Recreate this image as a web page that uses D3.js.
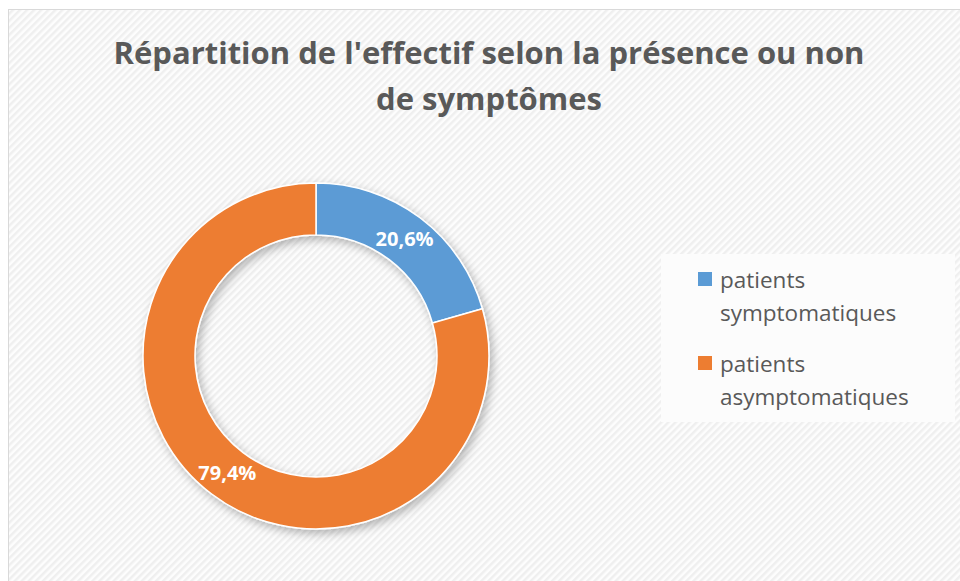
<!DOCTYPE html>
<html>
<head>
<meta charset="utf-8">
<script src="https://cdn.jsdelivr.net/npm/d3@7"></script>
<style>
  html, body { margin: 0; padding: 0; background: #fff; }
  svg { display: block; font-family: "Open Sans", "Noto Sans", sans-serif; }
</style>
</head>
<body>
<div class="chart"></div>
<script>
(() => {
  const categories = ["patients symptomatiques", "patients asymptomatiques"];
  const values = [20.6, 79.4];
  const labels = ["20,6%", "79,4%"];
  const legendLines = [["patients", "symptomatiques"], ["patients", "asymptomatiques"]];
  const colors = ["#5b9bd5", "#ed7d31"];
  const titleLines = ["Répartition de l'effectif selon la présence ou non", "de symptômes"];

  const width = 960, height = 581;
  const cx = 316, cy = 356, outerR = 173, innerR = 121;

  const svg = d3.select(".chart").append("svg")
    .attr("width", width)
    .attr("height", height);

  const defs = svg.append("defs");
  const pat = defs.append("pattern")
    .attr("id", "hatch")
    .attr("patternUnits", "userSpaceOnUse")
    .attr("width", 5)
    .attr("height", 5)
    .attr("patternTransform", "rotate(45)");
  pat.append("rect").attr("width", 5).attr("height", 5).attr("fill", "#fdfdfd");
  pat.append("rect").attr("width", 2.5).attr("height", 5).attr("fill", "#efefef");

  const shadow = defs.append("filter")
    .attr("id", "shadow")
    .attr("x", "-20%").attr("y", "-20%")
    .attr("width", "140%").attr("height", "140%");
  shadow.append("feDropShadow")
    .attr("dx", 3).attr("dy", 4)
    .attr("stdDeviation", 5)
    .attr("flood-color", "#000")
    .attr("flood-opacity", 0.28);

  // chart area with border
  svg.append("rect")
    .attr("x", 8.5).attr("y", 9.5)
    .attr("width", 960).attr("height", 600)
    .attr("fill", "url(#hatch)")
    .attr("stroke", "#d9d9d9")
    .attr("stroke-width", 1);

  // title
  const title = svg.append("text")
    .attr("text-anchor", "middle")
    .style("font-size", "31px")
    .style("font-weight", "bold")
    .style("fill", "#595959");
  title.selectAll("tspan")
    .data(titleLines)
    .enter()
    .append("tspan")
    .attr("x", 489)
    .attr("y", (_, i) => 64 + i * 46)
    .text((d) => d);

  // donut
  const pie = d3.pie().sort(null).value((d) => d);
  const arc = d3.arc().innerRadius(innerR).outerRadius(outerR);
  const arcs = pie(values);

  const g = svg.append("g").attr("transform", `translate(${cx},${cy})`);
  g.append("g")
    .attr("filter", "url(#shadow)")
    .selectAll("path")
    .data(arcs)
    .enter()
    .append("path")
    .attr("d", arc)
    .style("fill", (_, i) => colors[i])
    .style("stroke", "#fff")
    .style("stroke-width", 1.5);

  g.selectAll(".lbl")
    .data(arcs)
    .enter()
    .append("text")
    .attr("class", "lbl")
    .attr("transform", (d) => `translate(${arc.centroid(d)})`)
    .attr("text-anchor", "middle")
    .attr("dy", "0.35em")
    .style("font-size", "20px")
    .style("font-weight", "bold")
    .style("fill", "#fff")
    .text((_, i) => labels[i]);

  // legend
  const legend = svg.append("g").attr("class", "legend");
  legend.append("rect")
    .attr("x", 661).attr("y", 254)
    .attr("width", 294).attr("height", 168)
    .attr("fill", "#fcfcfc");

  const item = legend.selectAll(".item")
    .data(categories)
    .enter()
    .append("g")
    .attr("class", "item")
    .attr("transform", (_, i) => `translate(698, ${272 + i * 84})`);
  item.append("rect")
    .attr("width", 14).attr("height", 14)
    .style("fill", (_, i) => colors[i]);
  item.append("text")
    .style("font-size", "22.5px")
    .style("fill", "#595959")
    .selectAll("tspan")
    .data((_, i) => legendLines[i])
    .enter()
    .append("tspan")
    .attr("x", 22)
    .attr("y", (_, j) => 16 + j * 33)
    .text((d) => d);
})();
</script>
</body>
</html>
